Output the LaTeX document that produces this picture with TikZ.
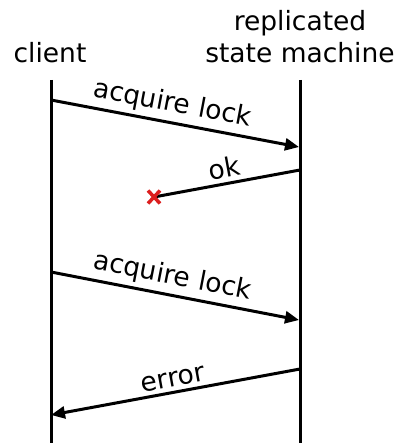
\documentclass[tikz,border=0pt]{standalone}
\usepackage{fontspec}
\setmainfont{DejaVu Sans}
\usetikzlibrary{arrows.meta,calc}
\begin{document}
\begin{tikzpicture}[x=1pt,y=-1pt,
  every node/.style={font=\fontsize{26.5}{32}\selectfont},
  life/.style={line width=3pt},
  msg/.style={line width=3pt,-{Triangle[length=14pt,width=12pt]}},
  lbl/.style={sloped,above,inner sep=4pt},
  lost/.style={line width=3.5pt,draw={rgb,255:red,220;green,30;blue,30}}]
\useasboundingbox (0,0) rectangle (398,443);
\node (client) at (50,53) {client};
\node[align=center] (rsm) at (300,37) {replicated\\state machine};
\coordinate (ctop) at (51,80);
\coordinate (cbot) at (51,443);
\coordinate (stop) at (300,80);
\coordinate (sbot) at (300,443);
\draw[life] (ctop) -- (cbot);
\draw[life] (stop) -- (sbot);
\coordinate (a1) at (51,100);
\coordinate (b1) at (299,147);
\coordinate (a2) at (300,170);
\coordinate (b2) at (154,197);
\coordinate (a3) at (51,272);
\coordinate (b3) at (299,320);
\coordinate (a4) at (300,369);
\coordinate (b4) at (51,415);
\draw[msg] (a1) -- node[lbl,pos=0.475] {acquire lock} (b1);
\draw[line width=3pt] (a2) -- node[lbl] {ok} (b2);
\draw[lost] ($(b2)+(-6,-6.5)$) -- ($(b2)+(6,6.5)$) ($(b2)+(6,-6.5)$) -- ($(b2)+(-6,6.5)$);
\draw[msg] (a3) -- node[lbl,pos=0.475] {acquire lock} (b3);
\draw[msg] (a4) -- node[lbl] {error} (b4);
\end{tikzpicture}
\end{document}
